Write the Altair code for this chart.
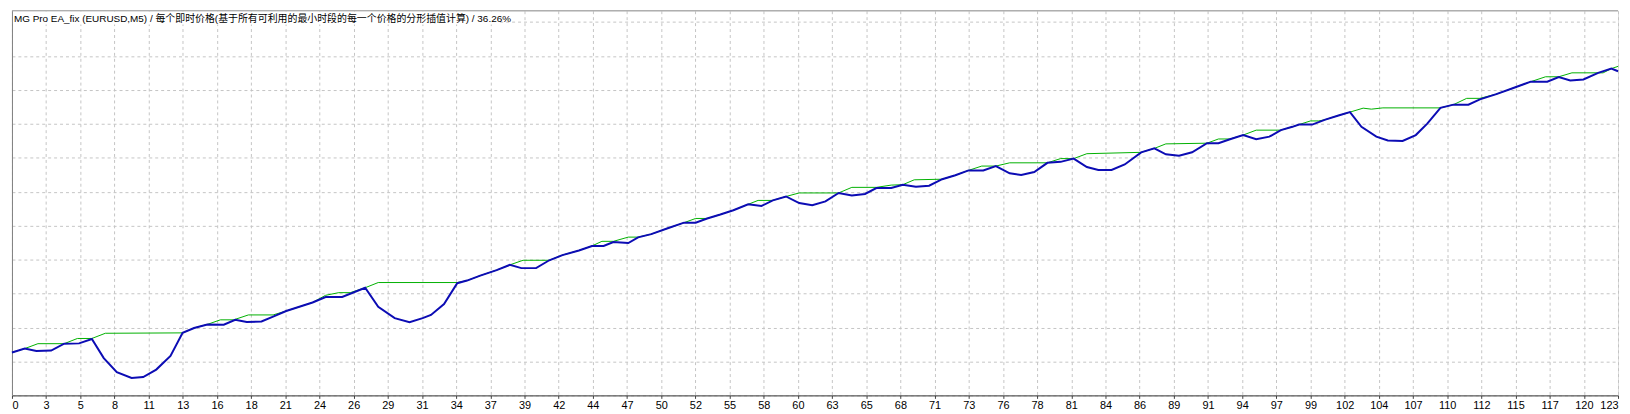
import json
import altair as alt
import pandas as pd

title_text = "MG Pro EA_fix (EURUSD,M5) / 每个即时价格(基于所有可利用的最小时段的每一个价格的分形插值计算) / 36.26%"

x_labels = ["0", "3", "5", "8", "11", "13", "16", "18", "21", "24", "26", "29", "31", "34",
            "37", "39", "42", "44", "47", "50", "52", "55", "58", "60", "63", "65", "68", "71",
            "73", "76", "78", "81", "84", "86", "89", "91", "94", "97", "99", "102", "104", "107",
            "110", "112", "115", "117", "120", "123"]

# blue line (trade index, value)
blue_t = [0, 0.98, 1.87, 3.0, 4.0, 5.14, 6.12, 7.03, 8.03, 9.16, 10.05, 11.05, 12.14, 13.07,
          13.95, 14.96, 16.22, 17.10, 17.98, 19.11, 20.0, 21.0, 22.01, 23.02, 24.02, 25.29,
          27.05, 28.05, 29.31, 30.45, 31.45, 32.09, 33.09, 34.10, 34.85, 35.86, 37.12, 38.13,
          39.01, 40.14, 41.15, 42.16, 43.42, 44.42, 45.31, 46.06, 47.20, 47.95, 48.96, 50.22,
          51.47, 52.36, 53.24, 54.25, 55.25, 56.38, 57.40, 58.27, 59.28, 60.29, 61.29, 62.30,
          63.31, 64.32, 65.33, 66.20, 67.34, 68.22, 69.23, 70.24, 71.24, 72.25, 73.26, 74.39,
          75.35, 76.41, 77.29, 78.29, 79.30, 80.31, 81.31, 82.32, 83.20, 84.21, 85.22, 86.48,
          87.49, 88.37, 89.38, 90.38, 91.52, 92.40, 93.28, 94.29, 95.29, 96.30, 97.18, 98.06,
          98.57, 99.58, 100.58, 101.59, 102.47, 103.35, 104.49, 105.37, 106.50, 107.51, 108.39,
          109.40, 110.40, 111.54, 112.42, 113.68, 114.93, 116.32, 117.58, 118.46, 119.34,
          120.35, 121.48, 122.49, 123.0]
blue_v = [437, 477, 453, 457, 527, 530, 575, 380, 237, 177, 187, 263, 403, 637,
          687, 723, 720, 770, 747, 753, 803, 860, 903, 947, 1003, 1003,
          1097, 903, 787, 745, 787, 820, 930, 1143, 1170, 1220, 1277, 1330,
          1297, 1297, 1377, 1430, 1477, 1523, 1523, 1563, 1553, 1610, 1643, 1703,
          1760, 1760, 1803, 1843, 1887, 1947, 1930, 1987, 2027, 1960, 1937, 1977,
          2063, 2037, 2053, 2113, 2113, 2147, 2127, 2137, 2203, 2243, 2293, 2293,
          2337, 2263, 2247, 2277, 2370, 2380, 2413, 2327, 2297, 2297, 2353, 2477,
          2517, 2457, 2443, 2477, 2570, 2570, 2610, 2653, 2610, 2637, 2703, 2737,
          2760, 2760, 2810, 2853, 2887, 2737, 2637, 2597, 2593, 2653, 2770,
          2930, 2963, 2963, 3017, 3070, 3130, 3197, 3197, 3243, 3210,
          3220, 3287, 3330, 3303]

# green line (trade index, value)
green_t = [0, 0.98, 1.99, 4.0, 5.01, 6.12, 7.15, 13.07, 13.95, 14.96, 15.96, 16.98, 18.11,
           20.0, 21.0, 22.01, 23.02, 24.02, 25.03, 25.91, 27.05, 28.05, 34.10, 34.85, 35.86,
           37.12, 38.13, 39.14, 41.15, 42.16, 43.42, 44.42, 45.18, 46.06, 47.20, 47.95, 48.96,
           50.22, 51.47, 52.36, 53.24, 54.25, 55.25, 56.38, 57.14, 58.27, 59.28, 60.29, 63.31,
           64.32, 66.20, 67.34, 68.22, 69.10, 71.24, 72.25, 73.26, 74.27, 75.35, 76.41, 79.30,
           80.31, 81.31, 82.32, 86.48, 87.49, 88.37, 91.52, 92.40, 93.28, 94.29, 95.29, 97.18,
           98.06, 98.57, 99.45, 100.08, 100.58, 101.59, 102.47, 103.48, 104.11, 104.99, 109.40,
           110.40, 111.41, 112.42, 113.68, 114.93, 116.32, 117.45, 118.46, 119.47, 121.86,
           122.49, 123.0]
green_v = [437, 477, 527, 527, 580, 580, 633, 637, 687, 723, 770, 770, 820,
           820, 860, 903, 947, 1020, 1047, 1047, 1097, 1150, 1150, 1170, 1220,
           1277, 1330, 1377, 1377, 1430, 1477, 1523, 1570, 1570, 1613, 1613, 1643,
           1703, 1760, 1803, 1803, 1843, 1887, 1947, 1987, 1987, 2027, 2063, 2063,
           2120, 2120, 2143, 2147, 2197, 2203, 2243, 2293, 2337, 2337, 2370, 2370,
           2413, 2413, 2463, 2477, 2517, 2563, 2570, 2613, 2613, 2653, 2703, 2703,
           2737, 2760, 2797, 2797, 2810, 2853, 2887, 2927, 2917, 2930, 2930,
           2963, 3027, 3027, 3070, 3130, 3197, 3247, 3247, 3287, 3287,
           3330, 3353]

W = 1620
H = 388
X_MAX = 123
Y_MAX = 3920
GRID_STEP = 346

tick_vals = [k * X_MAX / (len(x_labels) - 1) for k in range(len(x_labels))]
y_grid = [k * GRID_STEP for k in range(12)]
label_expr = json.dumps(x_labels) + "[round(datum.value * %d / %d)]" % (len(x_labels) - 1, X_MAX)

FONT = "Tahoma, 'Liberation Sans', 'Noto Sans CJK SC', sans-serif"
GRID_COLOR = "#c4c4c4"

x_enc = alt.X("t:Q", scale=alt.Scale(domain=[0, X_MAX], nice=False, zero=False),
              axis=alt.Axis(values=tick_vals, labelExpr=label_expr, title=None,
                            grid=True, gridDash=[3, 3], gridColor=GRID_COLOR,
                            domainColor="#404040", tickColor="#404040", tickSize=3,
                            labelFont=FONT, labelFontSize=11, labelColor="#000000",
                            labelPadding=1, labelFlush=True, labelOverlap=False))
y_enc = alt.Y("v:Q", scale=alt.Scale(domain=[0, Y_MAX], nice=False, zero=False),
              axis=alt.Axis(values=y_grid, labels=False, ticks=False, title=None,
                            grid=True, gridDash=[3, 3], gridColor=GRID_COLOR,
                            domainColor="#808080"))

blue_df = pd.DataFrame({"t": blue_t, "v": blue_v})
green_df = pd.DataFrame({"t": green_t, "v": green_v})

green = alt.Chart(green_df).mark_line(color="#00b000", strokeWidth=1).encode(x=x_enc, y=y_enc)
blue = alt.Chart(blue_df).mark_line(color="#0c0cb4", strokeWidth=2).encode(x=x_enc, y=y_enc)

one = alt.Data(values=[{"a": 1}])
top_border = alt.Chart(one).mark_rule(color="#9a9a9a", strokeWidth=1).encode(
    x=alt.value(0), x2=alt.value(W), y=alt.value(0))
text_bg = alt.Chart(one).mark_rect(color="#ffffff").encode(
    x=alt.value(1), x2=alt.value(492), y=alt.value(1), y2=alt.value(14))
title_mark = alt.Chart(one).mark_text(text=title_text, align="left", baseline="alphabetic",
                                      font=FONT, fontSize=10, color="#000000").encode(
    x=alt.value(2), y=alt.value(11))

chart = alt.layer(green, blue, top_border, text_bg, title_mark).properties(
    width=W, height=H, padding={"left": 0, "top": 0, "right": 0, "bottom": 0}
).configure_view(stroke=None).configure(background="#ffffff")

chart.save("out.html", embed_options={"renderer": "svg", "actions": False})
